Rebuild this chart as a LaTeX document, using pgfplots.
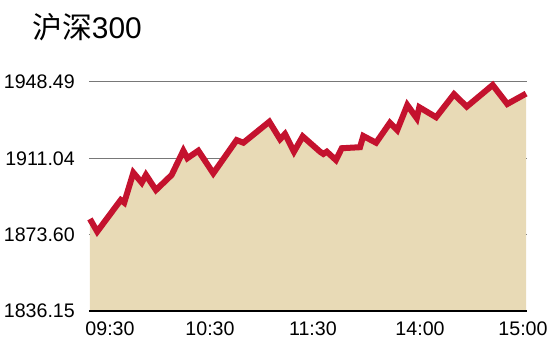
\documentclass[border=0pt]{standalone}
\usepackage{fontspec}
\setmainfont{Liberation Sans}
\newfontfamily\cjk{Noto Sans CJK SC}
\usepackage{pgfplots}
\pgfplotsset{compat=1.18}
\definecolor{linered}{RGB}{196,18,46}
\definecolor{areafill}{RGB}{232,218,182}
\definecolor{gridgray}{RGB}{120,120,120}
\begin{document}
\begin{tikzpicture}
\path[use as bounding box] (-89bp,-35bp) rectangle (461bp,311bp);
\begin{axis}[
  scale only axis,
  width=438bp, height=229bp,
  xmin=0, xmax=240,
  ymin=1836.15, ymax=1948.49,
  clip=false,
  axis line style={draw=none},
  major tick length=0pt,
  xtick={11.5,66.3,122.7,181.4,237.8},
  xticklabels={09:30,10:30,11:30,14:00,15:00},
  ytick={1836.15,1873.60,1911.04,1948.49},
  yticklabels={1836.15,1873.60,1911.04,1948.49},
  ymajorgrids,
  grid style={gridgray, line width=1bp},
  /pgf/number format/assume math mode=true,
  tick label style={font=\fontsize{19.7}{22}\selectfont, inner sep=0pt},
  x tick label style={anchor=base, yshift=-24bp},
  y tick label style={anchor=east, xshift=-14bp},
]
\addplot[draw=none, fill=areafill] coordinates {
(0.5,1881.3) (4.5,1875.1) (17.4,1890.6) (19.3,1889.3) (24.3,1904.0)
(28.9,1899.1) (31.2,1902.9) (36.7,1895.5) (45.3,1902.9) (51.7,1914.8)
(53.9,1911.1) (59.9,1914.8) (68.1,1903.7) (80.9,1920.0) (84.6,1918.7)
(98.8,1929.0) (104.7,1920.4) (107.4,1923.0) (112.3,1914.3) (117.1,1921.8)
(126.6,1914.3) (128.4,1913.2) (130.3,1914.3) (135.3,1910.2) (138.5,1916.0)
(148.5,1916.5) (150.3,1922.0) (157.3,1918.7) (164.9,1928.5) (168.9,1924.9)
(174.4,1937.2) (179.6,1930.7) (181.0,1936.1) (190.2,1931.2) (200.0,1942.5)
(207.0,1936.4) (221.2,1947.0) (229.2,1937.7) (239.5,1942.8)
} \closedcycle;
\addplot[linered, line width=6bp, line join=miter, miter limit=4] coordinates {
(0.5,1881.3) (4.5,1875.1) (17.4,1890.6) (19.3,1889.3) (24.3,1904.0)
(28.9,1899.1) (31.2,1902.9) (36.7,1895.5) (45.3,1902.9) (51.7,1914.8)
(53.9,1911.1) (59.9,1914.8) (68.1,1903.7) (80.9,1920.0) (84.6,1918.7)
(98.8,1929.0) (104.7,1920.4) (107.4,1923.0) (112.3,1914.3) (117.1,1921.8)
(126.6,1914.3) (128.4,1913.2) (130.3,1914.3) (135.3,1910.2) (138.5,1916.0)
(148.5,1916.5) (150.3,1922.0) (157.3,1918.7) (164.9,1928.5) (168.9,1924.9)
(174.4,1937.2) (179.6,1930.7) (181.0,1936.1) (190.2,1931.2) (200.0,1942.5)
(207.0,1936.4) (221.2,1947.0) (229.2,1937.7) (239.5,1942.8)
};
\draw[black, line width=2bp] (axis cs:0,1836.15) -- (axis cs:240,1836.15);
\end{axis}
\node[anchor=base west, inner sep=0pt, font=\fontsize{30}{34}\selectfont] at (-57bp,272bp) {{\cjk 沪深}300};
\end{tikzpicture}
\end{document}
